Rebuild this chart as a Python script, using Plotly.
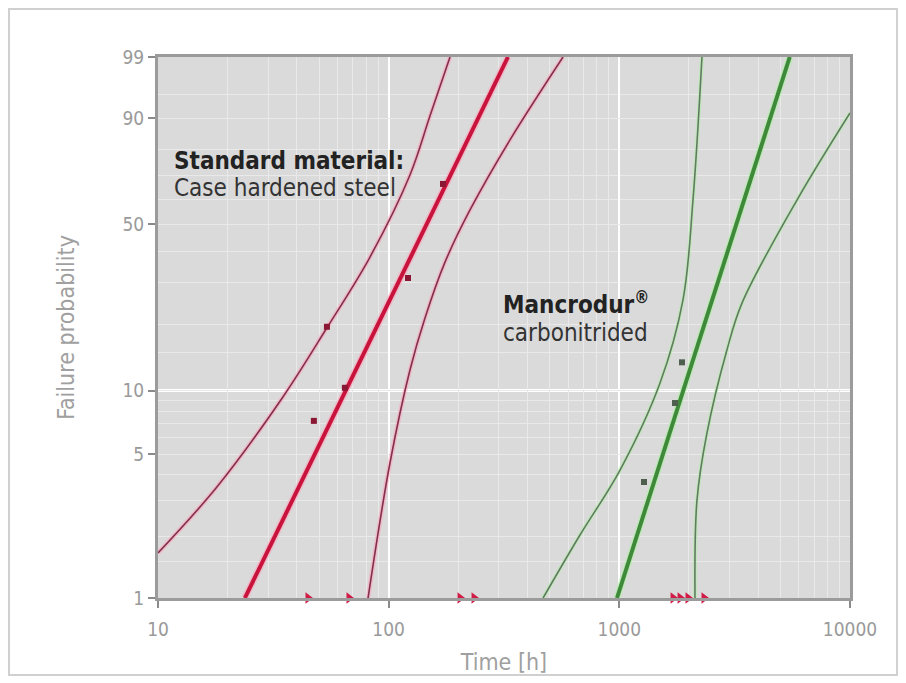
import numpy as np
import plotly.graph_objects as go

# ---------------- data ----------------
prob_ticks = [1, 5, 10, 50, 90, 99]
prob_minor = [1.5, 2, 3, 4, 6, 7, 8, 9, 15, 20, 30, 40, 60, 70, 80, 95]
time_ticks = [10, 100, 1000, 10000]

fit_prob = [1, 99]

std_fit_time = [23.8, 329]
std_pts_time = [47.4, 54.0, 64.6, 121.3, 172]
std_pts_prob = [7.2, 19.5, 10.3, 31.4, 66.5]
std_upper_time = [10.0, 18.0, 34.8, 54.0, 83.0, 123.7, 151.1, 184.5]
std_upper_prob = [1.66, 3.47, 9.33, 19.3, 38.0, 70.2, 90.6, 99]
std_lower_time = [81.4, 101.3, 123.7, 143.7, 175.5, 225.2, 335.7, 570]
std_lower_prob = [1, 4.53, 12.45, 21.3, 36.3, 55.7, 83.5, 99]
std_suspended = [44.7, 67.3, 203.9, 234.5]

man_fit_time = [977, 5480]
man_pts_time = [1279, 1743, 1869]
man_pts_prob = [3.67, 8.74, 13.5]
man_upper_time = [467, 675, 1007, 1501, 1888, 2086, 2282]
man_upper_prob = [1, 2.03, 4.19, 10.84, 25.5, 59.8, 99]
man_lower_time = [2128, 2171, 2399, 2929, 3402, 5891, 10000]
man_lower_prob = [1, 3.0, 6.31, 15.4, 24.7, 59.8, 91.3]
man_suspended = [1710, 1834, 1985, 2329]


def wb(p):
    """Weibull probability scale: ln(-ln(1-F))."""
    p = np.asarray(p, dtype=float) / 100.0
    return np.log(-np.log(1.0 - p))


FONT = "Liberation Sans Narrow, DejaVu Sans Condensed, Arial Narrow, sans-serif"

RED = "#c8143c"
RED_THIN = "#82304d"
RED_HALO = "rgba(255,160,185,0.55)"
GREEN = "#3f8a3a"
GREEN_THIN = "#627a62"
GREEN_HALO = "rgba(175,240,165,0.6)"

fig = go.Figure()


def add_line(xs, ys, color, width, halo, halo_w, spline=False):
    shape = "spline" if spline else "linear"
    fig.add_trace(go.Scatter(x=xs, y=wb(ys), mode="lines",
                             line=dict(color=halo, width=halo_w, shape=shape),
                             hoverinfo="skip", showlegend=False))
    fig.add_trace(go.Scatter(x=xs, y=wb(ys), mode="lines",
                             line=dict(color=color, width=width, shape=shape),
                             hoverinfo="skip", showlegend=False))


# standard material
add_line(std_upper_time, std_upper_prob, RED_THIN, 1.6, RED_HALO, 4.5, spline=True)
add_line(std_lower_time, std_lower_prob, RED_THIN, 1.6, RED_HALO, 4.5, spline=True)
add_line(std_fit_time, fit_prob, RED, 4, RED_HALO, 7)
# Mancrodur
add_line(man_upper_time, man_upper_prob, GREEN_THIN, 1.6, GREEN_HALO, 4, spline=True)
add_line(man_lower_time, man_lower_prob, GREEN_THIN, 1.6, GREEN_HALO, 4, spline=True)
add_line(man_fit_time, fit_prob, GREEN, 4, GREEN_HALO, 7)

fig.add_trace(go.Scatter(x=std_pts_time, y=wb(std_pts_prob), mode="markers",
                         marker=dict(symbol="square", size=6, color="#8a1734"),
                         showlegend=False, hoverinfo="skip"))
fig.add_trace(go.Scatter(x=man_pts_time, y=wb(man_pts_prob), mode="markers",
                         marker=dict(symbol="square", size=6, color="#4f5f4f"),
                         showlegend=False, hoverinfo="skip"))

susp = std_suspended + man_suspended
fig.add_trace(go.Scatter(x=susp, y=wb([1] * len(susp)), mode="markers",
                         marker=dict(symbol="triangle-right", size=10, color="#d21c48"),
                         cliponaxis=False, showlegend=False, hoverinfo="skip"))

# thick white 10 % line
fig.add_shape(type="line", xref="paper", x0=0, x1=1, yref="y",
              y0=float(wb(10)), y1=float(wb(10)),
              line=dict(color="white", width=3), layer="below")

# outer frame of the picture
fig.add_shape(type="rect", xref="paper", yref="paper",
              x0=-0.2153, x1=1.0680, y0=-0.1425, y1=1.0887,
              line=dict(color="#d0d0d0", width=2), layer="below")

fig.add_annotation(xref="paper", yref="paper", x=0.020, y=0.808,
                   text="<b>Standard material:</b>", showarrow=False,
                   xanchor="left", yanchor="middle",
                   font=dict(family=FONT, size=24, color="#222222"))
fig.add_annotation(xref="paper", yref="paper", x=0.020, y=0.758,
                   text="Case hardened steel", showarrow=False,
                   xanchor="left", yanchor="middle",
                   font=dict(family=FONT, size=24, color="#333333"))
fig.add_annotation(xref="paper", yref="paper", x=0.496, y=0.545,
                   text="<b>Mancrodur<sup>®</sup></b>", showarrow=False,
                   xanchor="left", yanchor="middle",
                   font=dict(family=FONT, size=24, color="#222222"))
fig.add_annotation(xref="paper", yref="paper", x=0.496, y=0.490,
                   text="carbonitrided", showarrow=False,
                   xanchor="left", yanchor="middle",
                   font=dict(family=FONT, size=24, color="#333333"))

fig.update_layout(
    width=898, height=675,
    margin=dict(l=150, r=56, t=49, b=85),
    paper_bgcolor="white", plot_bgcolor="#dadada",
    font=dict(family=FONT, color="#9a9a9a"),
    showlegend=False,
)
fig.update_xaxes(
    type="log", range=[1, 4],
    tickvals=time_ticks, ticktext=[str(t) for t in time_ticks],
    tickfont=dict(size=19, color="#9a9a9a"),
    ticks="outside", ticklen=7, tickwidth=1.5, tickcolor="#8a8a8a",
    ticklabelstandoff=5,
    showgrid=True, gridcolor="#ffffff", gridwidth=2,
    minor=dict(dtick="D1", showgrid=True, gridcolor="#e9e9e9", gridwidth=1, ticks=""),
    showline=True, linecolor="#9b9b9b", linewidth=3, mirror=True,
    zeroline=False,
    title=dict(text="Time [h]", font=dict(size=23, color="#a0a0a0"), standoff=16),
)
fig.update_yaxes(
    range=[float(wb(1)), float(wb(99))],
    tickvals=list(wb(prob_ticks)), ticktext=[str(p) for p in prob_ticks],
    tickfont=dict(size=19, color="#9a9a9a"),
    ticks="outside", ticklen=7, tickwidth=1.5, tickcolor="#8a8a8a",
    showgrid=True, gridcolor="#e9e9e9", gridwidth=1,
    minor=dict(tickvals=list(wb(prob_minor)), showgrid=True,
               gridcolor="#e9e9e9", gridwidth=1, ticks=""),
    showline=True, linecolor="#9b9b9b", linewidth=3, mirror=True,
    zeroline=False,
    title=dict(text="Failure probability", font=dict(size=23, color="#a0a0a0"), standoff=42),
)

fig.write_html("out.html")
